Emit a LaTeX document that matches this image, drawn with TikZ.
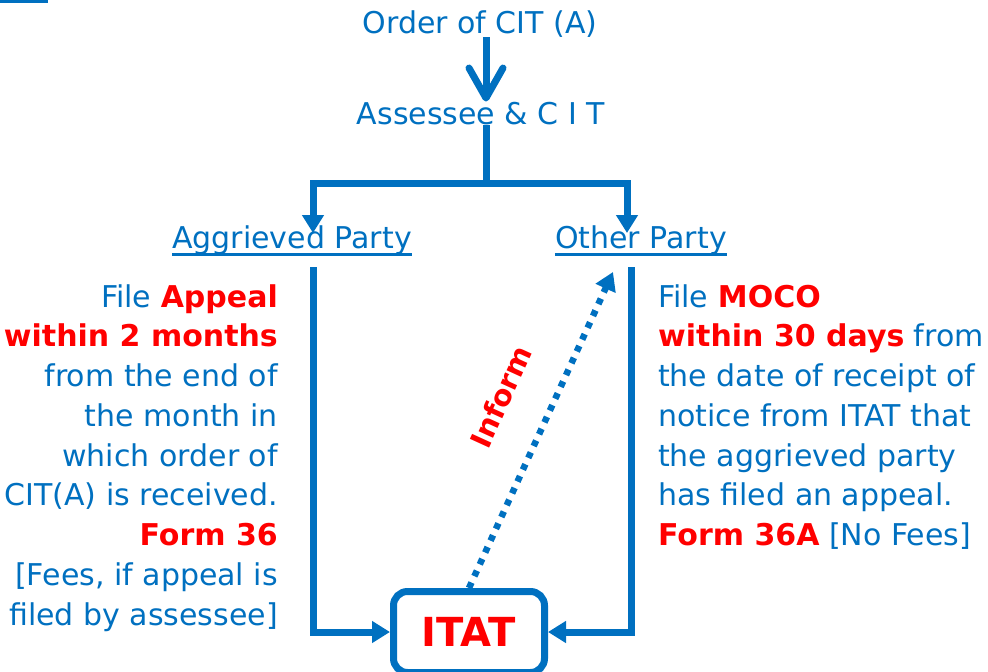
\documentclass[tikz,border=0pt]{standalone}
\usepackage{fontspec}
\setmainfont{DejaVu Sans}
\usetikzlibrary{arrows.meta}
\definecolor{ppblue}{HTML}{0070C0}
\colorlet{ppred}{red}
\newcommand{\hl}[1]{\textbf{\textcolor{ppred}{#1}}}

\begin{document}
\begin{tikzpicture}[x=1pt,y=-1pt,
    txt/.style={text=ppblue,font=\fontsize{30}{39.75}\selectfont,inner sep=0pt},
    link/.style={draw=ppblue,line width=7pt},
    tip/.style={-{Triangle[length=18pt,width=21pt]}},
    itatbox/.style={draw=ppblue,line width=7pt,rounded corners=14pt,
      minimum width=151pt,minimum height=81pt,text=ppred,
      font=\fontsize{40}{40}\selectfont\bfseries}]

      \useasboundingbox (0,0) rectangle (988,672);
      \clip (0,0) rectangle (988,672);

      \fill[ppblue] (0,0) rectangle (48,3);

      \node[txt,anchor=base] (order) at (480,33) {Order of CIT (A)};
      \node[txt,anchor=base] (assessee) at (481,124) {Assessee \& C I T};
      \node[txt,anchor=base] (aggr) at (292,248) {Aggrieved Party};
      \node[txt,anchor=base] (other) at (641,248) {Other Party};
      \draw[ppblue,line width=3pt] ([yshift=-6pt]aggr.base west) -- ([yshift=-6pt]aggr.base east);
      \draw[ppblue,line width=3pt] ([yshift=-6pt]other.base west) -- ([yshift=-6pt]other.base east);

      \node[itatbox] (itat) at (469,632) {ITAT};

      \coordinate (split) at (486,183);
      \coordinate (ltip) at (313,233);
      \coordinate (rtip) at (627,233);
      \coordinate (ltop) at (313,267);
      \coordinate (rtop) at (631,267);
      \coordinate (inftip) at (613,272);

      \draw[link,-{Straight Barb[round,length=30pt,width=34pt]}] (order.south -| split) -- (assessee.north -| split);
      \draw[link] (split |- assessee.south) -- (split);
      \draw[link,tip] (split) -| (ltip);
      \draw[link,tip] (split) -| (rtip);

      \draw[link,tip] (ltop) |- (itat.west);
      \draw[link,tip] (rtop) |- (itat.east);

      \draw[ppblue,line width=6.5pt,dash pattern=on 6pt off 7pt,tip] (itat.north) -- (inftip)
        node[pos=0.54,sloped,above=36pt,text=ppred,font=\fontsize{29}{29}\selectfont\bfseries,inner sep=0pt] (inform) {Inform};

      % left and right notes
      \node[txt,anchor=north east,align=right] (appeal) at (278,284) {File \hl{Appeal}\\
        \hl{within 2 months}\\ from the end of\\ the month in\\ which order of\\
        CIT(A) is received.\\ \hl{Form 36}\\ {[}Fees, if appeal is\\ filed by assessee]};
      \node[txt,anchor=north west,align=left] (moco) at (658,284) {File \hl{MOCO}\\
        \hl{within 30 days} from\\ the date of receipt of\\ notice from ITAT that\\
        the aggrieved party\\ has filed an appeal.\\ \hl{Form 36A} [No Fees]};

    \end{tikzpicture}
\end{document}
